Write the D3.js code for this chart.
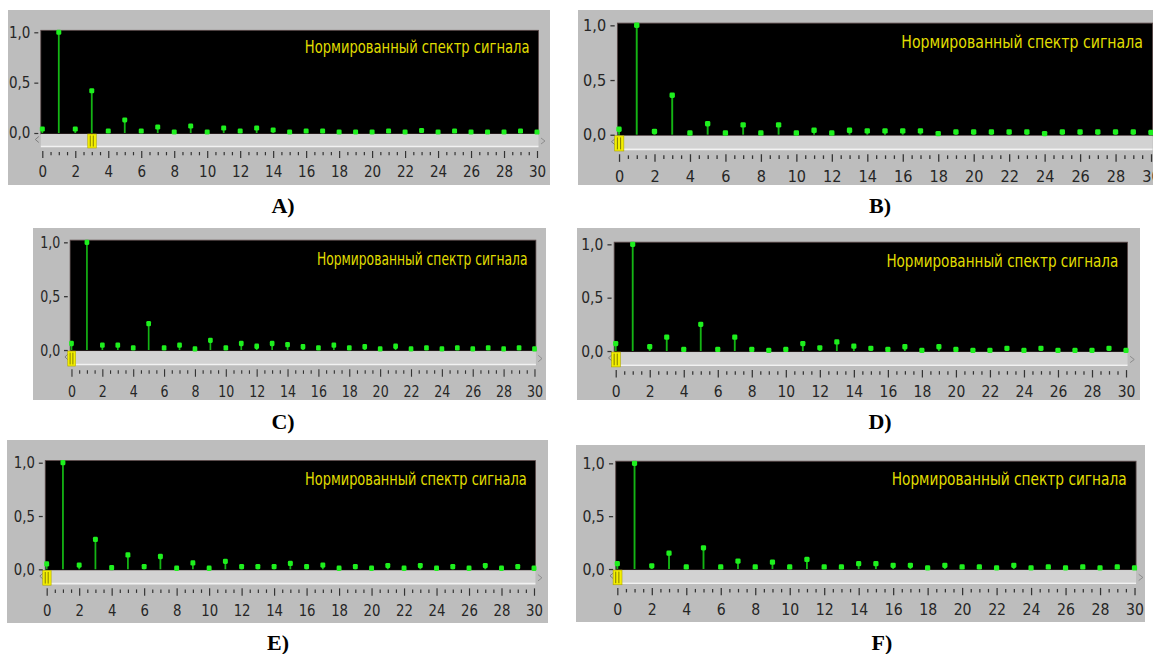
<!DOCTYPE html>
<html>
<head>
<meta charset="utf-8">
<script src="https://cdn.jsdelivr.net/npm/d3@7"></script>
<style>
  html, body { margin: 0; padding: 0; background: #fff; }
  svg { display: block; }
</style>
</head>
<body>
<svg id="chart" width="1153" height="654"></svg>
<script>
// harmonic numbers on the x axis
var harmonics = d3.range(0, 31)

// normalized spectrum values, one per harmonic 0..30
var spectrumA = [0.04, 1.0, 0.04, 0.42, 0.02, 0.13, 0.02, 0.06, 0.01, 0.07, 0.01, 0.05, 0.02, 0.05, 0.03,
                 0.01, 0.02, 0.02, 0.01, 0.01, 0.01, 0.02, 0.01, 0.025, 0.01, 0.02, 0.01, 0.01, 0.01, 0.02, 0.01]
var spectrumB = [0.05, 1.0, 0.03, 0.36, 0.015, 0.1, 0.015, 0.09, 0.015, 0.09, 0.015, 0.04, 0.015, 0.04,
                 0.035, 0.035, 0.035, 0.035, 0.01, 0.025, 0.025, 0.025, 0.025, 0.025, 0.01, 0.025, 0.025, 0.025, 0.025, 0.025, 0.02]
var spectrumC = [0.06, 1.0, 0.045, 0.045, 0.02, 0.245, 0.02, 0.045, 0.01, 0.09, 0.02, 0.06, 0.035, 0.06, 0.05,
                 0.03, 0.02, 0.045, 0.02, 0.03, 0.01, 0.035, 0.01, 0.02, 0.01, 0.02, 0.01, 0.02, 0.01, 0.02, 0.01]
var spectrumD = [0.07, 1.0, 0.04, 0.13, 0.015, 0.25, 0.015, 0.13, 0.015, 0.005, 0.015, 0.07, 0.03, 0.085, 0.045,
                 0.025, 0.015, 0.04, 0.005, 0.04, 0.015, 0.005, 0.005, 0.025, 0.005, 0.025, 0.005, 0.005, 0.005, 0.025, 0.005]
var spectrumE = [0.05, 1.0, 0.04, 0.28, 0.015, 0.135, 0.025, 0.12, 0.01, 0.06, 0.01, 0.075, 0.025, 0.025, 0.025,
                 0.055, 0.025, 0.04, 0.01, 0.025, 0.01, 0.035, 0.01, 0.035, 0.01, 0.025, 0.01, 0.035, 0.01, 0.025, 0.01]
var spectrumF = [0.05, 1.0, 0.03, 0.15, 0.02, 0.2, 0.02, 0.075, 0.02, 0.065, 0.02, 0.09, 0.02, 0.02, 0.05,
                 0.05, 0.035, 0.035, 0.01, 0.035, 0.02, 0.02, 0.01, 0.035, 0.01, 0.02, 0.01, 0.02, 0.01, 0.02, 0.01]

var panelNames = ["A)", "B)", "C)", "D)", "E)", "F)"]
var cursorPos = [3, 0, 0, 0, 0, 0]
var xTickValues = d3.range(0, 31, 2)
var yTickValues = [0, 0.5, 1]
var titleText = "Нормированный спектр сигнала"

// page layout of every screenshot: gray box, and where x=0 / x=30 / y=1 / y=0 land
var layout = [
    {box: [8, 10, 550, 185],    cal: [42.3, 537, 32.3, 133],     label: [283, 213]},
    {box: [578, 10, 1153, 185], cal: [619, 1151, 25.3, 134.7],   label: [880, 213]},
    {box: [33, 228, 546, 400],  cal: [71.5, 534.5, 242.3, 350],  label: [283, 429]},
    {box: [577, 228, 1140, 400], cal: [615.7, 1126, 244.3, 351], label: [880, 429]},
    {box: [7, 440, 548, 623],   cal: [46.7, 534, 462.7, 569.3],  label: [278, 650]},
    {box: [576, 445, 1145, 622], cal: [617.3, 1134.5, 463.3, 569], label: [882, 650]}
]
var spectra = [spectrumA, spectrumB, spectrumC, spectrumD, spectrumE, spectrumF]

// native size of the LabVIEW plot area
var nW = 495, nH = 100.7
var narrowFont = "'Liberation Sans Narrow','Arial Narrow','DejaVu Sans Condensed',sans-serif"

var svg = d3.select("#chart")
var ru = d3.formatLocale({decimal: ",", thousands: " ", grouping: [3], currency: ["", ""]})
var yFmt = ru.format(".1f")
var minorTicks = d3.range(0, 30.01, 0.5).filter(function(d) { return d % 2 !== 0 })

layout.forEach(function(L, i) {
    var b = L.box, c = L.cal
    svg.append("rect")
        .attr("x", b[0]).attr("y", b[1])
        .attr("width", b[2] - b[0]).attr("height", b[3] - b[1])
        .attr("fill", "#bdbdbd")

    var sx = (c[1] - c[0]) / nW,
        sy = (c[3] - c[2]) / nH
    var g = svg.append("g")
        .attr("transform", "translate(" + c[0] + "," + c[2] + ") scale(" + sx + "," + sy + ")")

    var x = d3.scaleLinear().domain([0, 30]).range([0, nW]),
        y = d3.scaleLinear().domain([0, 1]).range([nH, 0])

    // plot area
    g.append("rect")
        .attr("x", -1.5).attr("y", -2)
        .attr("width", nW + 3).attr("height", nH + 3)
        .attr("fill", "#000")
        .attr("stroke", "#5a4848").attr("stroke-width", 0.8)

    // scroll bar under the plot
    g.append("rect")
        .attr("x", -1.5).attr("y", nH + 1)
        .attr("width", nW + 3).attr("height", 12)
        .attr("fill", "#d2d2d2")
    g.append("line")
        .attr("x1", -1.5).attr("x2", nW + 1.5)
        .attr("y1", nH + 13.5).attr("y2", nH + 13.5)
        .attr("stroke", "#f2f2f2").attr("stroke-width", 1.5)
    g.append("polyline")
        .attr("points", [[-3.5, nH + 3.5], [-7, nH + 6.5], [-3.5, nH + 9.5]].join(" "))
        .attr("fill", "none").attr("stroke", "#777").attr("stroke-width", 0.9)
    g.append("polyline")
        .attr("points", [[nW + 4, nH + 5], [nW + 8, nH + 8], [nW + 4, nH + 11]].join(" "))
        .attr("fill", "none").attr("stroke", "#888").attr("stroke-width", 0.9)

    var data = spectra[i].map(function(v, k) { return {h: harmonics[k], v: v} })

    // stems
    g.selectAll(".stem").data(data).enter().append("line")
        .attr("class", "stem")
        .attr("x1", function(d) { return x(d.h) }).attr("x2", function(d) { return x(d.h) })
        .attr("y1", y(0)).attr("y2", function(d) { return y(d.v) })
        .attr("stroke", "#14b414").attr("stroke-width", 1.8)

    // point markers
    g.selectAll(".mark").data(data).enter().append("rect")
        .attr("class", "mark")
        .attr("x", function(d) { return x(d.h) - 2.5 })
        .attr("y", function(d) { return y(d.v) - 2.5 })
        .attr("width", 5).attr("height", 5).attr("rx", 1.3)
        .attr("fill", "#1ef01e")

    // yellow cursor
    var cx = x(cursorPos[i])
    g.append("rect")
        .attr("x", cx - 4).attr("y", nH + 1)
        .attr("width", 8.5).attr("height", 14)
        .attr("fill", "#f4f000").attr("stroke", "#b0a800").attr("stroke-width", 0.6)
    ;[-1.5, 1.5].forEach(function(o) {
        g.append("line")
            .attr("x1", cx + o).attr("x2", cx + o)
            .attr("y1", nH + 2.5).attr("y2", nH + 13.5)
            .attr("stroke", "#6a6400").attr("stroke-width", 0.8)
    })

    // axes
    var yAxis = g.append("g")
        .attr("transform", "translate(-4,0)")
        .call(d3.axisLeft(y).tickValues(yTickValues).tickSize(4).tickPadding(4).tickFormat(yFmt))
    var xAxis = g.append("g")
        .attr("transform", "translate(0," + (nH + 18) + ")")
        .call(d3.axisBottom(x).tickValues(xTickValues).tickSize(7).tickSizeOuter(0).tickPadding(8).tickFormat(d3.format("d")))
    var xMinor = g.append("g")
        .attr("transform", "translate(0," + (nH + 19) + ")")
        .call(d3.axisBottom(x).tickValues(minorTicks).tickSize(3.3).tickSizeOuter(0).tickFormat(""))

    ;[yAxis, xAxis, xMinor].forEach(function(a) {
        a.select(".domain").remove()
        a.selectAll(".tick line").attr("stroke", "#333").attr("stroke-width", 1.2)
        a.selectAll(".tick text")
            .attr("fill", "#262626")
            .style("font-size", "15px")
            .style("font-family", narrowFont)
    })

    // graph caption, squeezed horizontally to the screenshot's width
    var cap = g.append("text")
        .attr("text-anchor", "end")
        .style("font-family", narrowFont)
        .style("font-size", "17px")
        .attr("fill", "#e0de00")
        .text(titleText)
    var w = cap.node().getComputedTextLength()
    cap.attr("transform", "translate(487.5,21) scale(" + (225 / w) + ",1)")

    // panel letter
    svg.append("text")
        .attr("x", L.label[0]).attr("y", L.label[1])
        .attr("text-anchor", "middle")
        .style("font-family", "'Liberation Serif','Times New Roman',serif")
        .style("font-weight", "bold")
        .style("font-size", "22px")
        .attr("fill", "#000")
        .text(panelNames[i])
})
</script>
</body>
</html>
